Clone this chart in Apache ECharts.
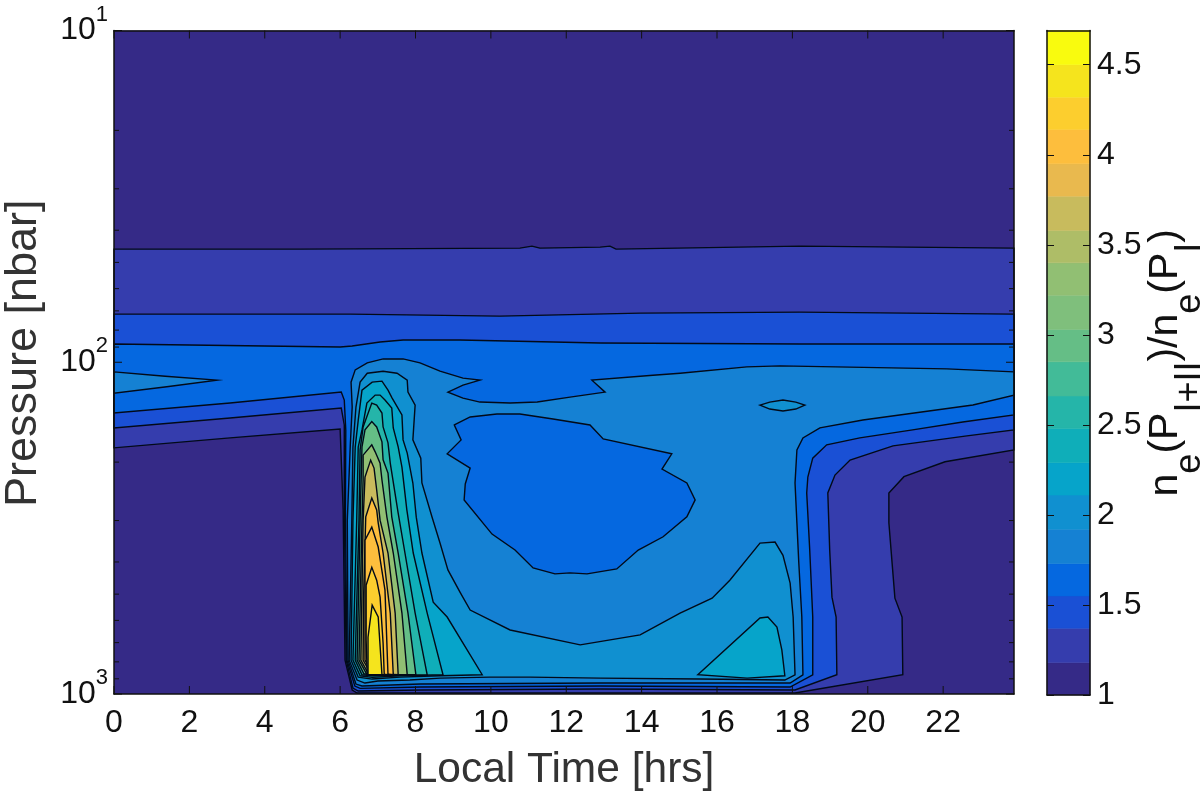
<!DOCTYPE html>
<html>
<head>
<meta charset="utf-8">
<title>Electron density ratio</title>
<script src="https://cdn.jsdelivr.net/npm/echarts@6/dist/echarts.min.js"></script>
<style>
    html, body { margin: 0; padding: 0; background: #fff; }
    #main { width: 1200px; height: 794px; }
</style>
</head>
<body>
<div id="main"></div>
<script>
// every contour is a list of [local time in hours, log10(pressure in nbar)]
var ring118 = [[0,1.659],[4.94,1.659],[10.77,1.656],[11.09,1.650],[11.30,1.656],[12.90,1.653],[13.16,1.650],[13.32,1.659],[18.20,1.650],[23.88,1.656],[23.88,2.264],[22.05,2.300],[20.96,2.345],[20.56,2.394],[20.56,2.484],[20.66,2.626],[20.72,2.711],[20.91,2.768],[20.93,2.942],[18.07,2.997],[6.45,2.997],[6.32,2.988],[6.13,2.898],[6.08,2.445],[6.00,2.201],[3.08,2.228],[0,2.258]];
var ring137 = [[0,1.855],[6.27,1.855],[10.24,1.861],[13.96,1.852],[18.20,1.849],[23.88,1.855],[23.88,2.204],[22.63,2.222],[20.67,2.252],[19.53,2.295],[19.13,2.340],[18.94,2.394],[18.99,2.566],[19.05,2.708],[19.16,2.768],[19.18,2.942],[18.07,2.988],[12.90,2.985],[8.12,2.988],[6.48,2.991],[6.34,2.982],[6.16,2.898],[6.11,2.445],[6.11,2.189],[6.03,2.138],[3.08,2.168],[0,2.198]];
var ring155 = [[0,1.945],[6.00,1.954],[6.32,1.951],[7.06,1.939],[7.67,1.933],[9.18,1.933],[12.90,1.942],[18.20,1.945],[23.88,1.945],[23.88,2.159],[22.52,2.180],[21.19,2.204],[19.79,2.228],[18.91,2.249],[18.54,2.289],[18.41,2.346],[18.38,2.394],[18.46,2.566],[18.54,2.768],[18.54,2.942],[17.94,2.979],[12.90,2.976],[8.12,2.979],[6.53,2.983],[6.39,2.976],[6.18,2.898],[6.14,2.445],[6.15,2.204],[6.11,2.114],[6.03,2.090],[3.08,2.123],[0,2.153]];
var ring173 = [[23.88,2.029],[22.10,2.020],[17.67,2.011],[16.79,2.014],[15.02,2.033],[14.30,2.039],[12.68,2.054],[13.03,2.090],[12.10,2.105],[11.23,2.120],[10.51,2.123],[9.71,2.120],[9.26,2.108],[8.86,2.090],[9.26,2.069],[9.71,2.054],[9.26,2.048],[8.65,2.027],[8.12,2.002],[7.67,1.990],[7.14,1.990],[6.72,2.002],[6.40,2.023],[6.29,2.060],[6.32,2.135],[6.27,2.249],[6.19,2.476],[6.21,2.898],[6.42,2.970],[6.58,2.976],[8.12,2.970],[12.90,2.967],[17.94,2.967],[18.28,2.942],[18.25,2.768],[18.17,2.605],[18.12,2.485],[18.07,2.364],[18.12,2.264],[18.28,2.228],[18.73,2.198],[19.87,2.174],[22.79,2.129],[23.88,2.099]];
var ring173Tip = [[0,2.029],[1.36,2.042],[2.73,2.054],[1.40,2.074],[0,2.093]];
// the low patch in the middle of the day, back down to the 1.55-1.73 band
var ring173Hole = [[9.03,2.189],[9.45,2.165],[10.16,2.156],[10.77,2.156],[11.65,2.171],[12.63,2.189],[12.98,2.231],[14.80,2.276],[14.54,2.322],[15.20,2.364],[15.42,2.415],[15.20,2.466],[14.57,2.526],[13.91,2.566],[13.34,2.623],[12.55,2.638],[12.10,2.635],[11.70,2.638],[11.12,2.620],[10.64,2.566],[10.03,2.518],[9.29,2.415],[9.32,2.367],[9.45,2.319],[8.84,2.276],[9.21,2.234]];
var ring192 = [[6.66,2.967],[6.45,2.958],[6.24,2.898],[6.31,2.476],[6.34,2.256],[6.42,2.135],[6.53,2.060],[6.72,2.033],[7.14,2.027],[7.51,2.033],[7.78,2.054],[7.80,2.090],[7.99,2.129],[7.93,2.234],[8.14,2.289],[8.17,2.364],[8.44,2.467],[8.65,2.545],[8.86,2.626],[9.18,2.693],[9.45,2.747],[10.51,2.807],[12.37,2.852],[13.96,2.822],[15.02,2.756],[15.87,2.711],[16.34,2.657],[17.14,2.545],[17.54,2.542],[17.75,2.582],[17.94,2.666],[18.02,2.768],[18.07,2.942],[17.80,2.958],[15.55,2.955],[12.90,2.952],[11.04,2.949],[9.98,2.949],[8.65,2.952],[7.85,2.958],[7.00,2.961]];
var ring192Lens = [[17.14,2.129],[17.40,2.120],[17.75,2.114],[18.09,2.120],[18.33,2.129],[18.09,2.141],[17.75,2.147],[17.40,2.141]];
var ring211 = [[9.77,2.942],[8.65,2.945],[7.59,2.949],[6.85,2.955],[6.48,2.949],[6.29,2.898],[6.34,2.476],[6.40,2.256],[6.48,2.175],[6.58,2.084],[6.85,2.060],[7.11,2.057],[7.27,2.084],[7.38,2.108],[7.64,2.159],[7.67,2.234],[7.78,2.274],[7.93,2.364],[8.02,2.467],[8.17,2.575],[8.47,2.723],[8.84,2.768]];
var ring211Dusk = [[15.49,2.942],[17.14,2.771],[17.35,2.768],[17.59,2.798],[17.72,2.867],[17.80,2.945],[16.80,2.952]];
var ring229 = [[8.73,2.942],[7.59,2.945],[6.85,2.950],[6.53,2.945],[6.34,2.898],[6.44,2.476],[6.48,2.256],[6.58,2.204],[6.71,2.123],[6.93,2.099],[7.06,2.099],[7.19,2.114],[7.37,2.138],[7.41,2.198],[7.54,2.255],[7.64,2.316],[7.77,2.445],[7.94,2.575],[8.31,2.756]];
var ring248 = [[8.31,2.942],[7.59,2.944],[6.85,2.945],[6.58,2.942],[6.40,2.898],[6.50,2.476],[6.53,2.264],[6.61,2.195],[6.84,2.123],[6.97,2.129],[7.11,2.153],[7.14,2.195],[7.27,2.243],[7.33,2.304],[7.54,2.455],[7.72,2.575],[7.99,2.756]];
var ring285 = [[8.01,2.942],[7.59,2.942],[6.85,2.942],[6.63,2.939],[6.45,2.898],[6.53,2.476],[6.58,2.255],[6.66,2.204],[6.84,2.179],[6.97,2.195],[7.11,2.240],[7.14,2.294],[7.27,2.334],[7.37,2.466],[7.54,2.575],[7.80,2.756]];
var ring322 = [[7.78,2.942],[6.85,2.941],[6.69,2.937],[6.50,2.898],[6.58,2.476],[6.61,2.355],[6.61,2.280],[6.84,2.249],[6.93,2.270],[7.06,2.304],[7.11,2.355],[7.24,2.466],[7.41,2.575],[7.64,2.756]];
var ring358 = [[7.54,2.942],[6.74,2.937],[6.55,2.898],[6.61,2.476],[6.66,2.346],[6.81,2.295],[6.90,2.319],[6.97,2.385],[7.06,2.476],[7.27,2.575],[7.46,2.756]];
var ring395 = [[7.41,2.942],[6.79,2.934],[6.61,2.898],[6.62,2.717],[6.68,2.466],[6.84,2.409],[6.97,2.445],[7.01,2.484],[7.14,2.575],[7.33,2.756]];
var ring414 = [[7.27,2.942],[6.85,2.937],[6.66,2.898],[6.66,2.536],[6.84,2.497],[7.01,2.557],[7.19,2.687]];
var ring432 = [[7.17,2.942],[6.72,2.942],[6.69,2.837],[6.69,2.672],[6.84,2.618],[6.97,2.657],[7.06,2.708],[7.14,2.847]];
var ring450 = [[6.85,2.732],[7.01,2.768],[7.11,2.942],[6.74,2.942],[6.74,2.829]];

var rings = [ring118, ring137, ring155, ring173, ring173Tip, ring173Hole, ring192, ring192Lens, ring211, ring211Dusk, ring229, ring248, ring285, ring322, ring358, ring395, ring414, ring432, ring450];
// which colour band lies inside each ring
var ringBands = [1, 2, 3, 4, 4, 3, 5, 5, 6, 6, 7, 8, 10, 12, 14, 16, 16, 17, 18];

var colorbarEdges = [1, 1.18, 1.37, 1.55, 1.73, 1.92, 2.11, 2.29, 2.48, 2.66, 2.85, 3.03, 3.22, 3.40, 3.58, 3.77, 3.95, 4.14, 4.32, 4.50, 4.69];
var bandColors = ['#352A87', '#353DAD', '#1A50D5', '#0568E0', '#1581D3', '#1090D0', '#06A4CA', '#0FAEB9', '#25B5A9', '#42BB98', '#65BE86', '#7FBF7C', '#91BF73', '#AEBD67', '#C8BB5D', '#E9B94E', '#FDBE3D', '#FCCE2E', '#F5E41D', '#F9FB0E'];

var hourTicks = [0, 2, 4, 6, 8, 10, 12, 14, 16, 18, 20, 22];
var hourMax = 23.88;
var pressureMajor = [10, 100, 1000];
var pressureMinor = [20, 30, 40, 50, 60, 70, 80, 90, 200, 300, 400, 500, 600, 700, 800, 900];
var colorbarTicks = [1, 1.5, 2, 2.5, 3, 3.5, 4, 4.5];

var FONT = 'Liberation Sans';
var INK = '#111111';
var GREY = '#333333';

function renderContour(params, api) {
    var ring = rings[api.value(2)];
    var points = ring.map(function (p) {
        return api.coord([p[0], Math.pow(10, p[1])]);
    });
    return {
        type: 'polygon',
        shape: { points: points },
        style: { fill: bandColors[ringBands[api.value(2)]], stroke: '#020a18', lineWidth: 1.4 }
    };
}

function tickLine(x1, y1, x2, y2) {
    return {
        type: 'line',
        shape: { x1: x1, y1: y1, x2: x2, y2: y2 },
        style: { stroke: '#111', lineWidth: 1 }
    };
}

// matlab style ticks, pointing inwards on all four sides
function renderTicks(params, api) {
    var kind = api.value(2);
    if (kind === 0) {
        var bottom = api.coord([api.value(0), 1000]);
        var top = api.coord([api.value(0), 10]);
        return { type: 'group', children: [
            tickLine(bottom[0], bottom[1], bottom[0], bottom[1] - 8),
            tickLine(top[0], top[1], top[0], top[1] + 8)
        ] };
    }
    var len = kind === 1 ? 8 : 5;
    var left = api.coord([0, api.value(1)]);
    var right = api.coord([hourMax, api.value(1)]);
    return { type: 'group', children: [
        tickLine(left[0], left[1], left[0] + len, left[1]),
        tickLine(right[0], right[1], right[0] - len, right[1])
    ] };
}

function renderBand(params, api) {
    var a = api.coord([0, api.value(0)]);
    var b = api.coord([1, api.value(1)]);
    return {
        type: 'rect',
        shape: { x: a[0], y: b[1], width: b[0] - a[0], height: a[1] - b[1] },
        style: { fill: bandColors[params.dataIndex], stroke: bandColors[params.dataIndex], lineWidth: 0.5 }
    };
}

var tickData = [];
hourTicks.forEach(function (h) { tickData.push([h, 10, 0]); });
pressureMajor.forEach(function (p) { tickData.push([0, p, 1]); });
pressureMinor.forEach(function (p) { tickData.push([0, p, 2]); });

var frame = { show: true, onZero: false, lineStyle: { color: '#111', width: 1.5 } };

var chart = echarts.init(document.getElementById('main'), null, { renderer: 'canvas' });
var option = {
    backgroundColor: '#fff',
    animation: false,
    textStyle: { fontFamily: FONT },
    grid: [
        { left: 114, top: 30.5, width: 900, height: 663.5, outerBoundsMode: 'none' },
        { left: 1047, top: 30.5, width: 43, height: 664.5, outerBoundsMode: 'none' }
    ],
    xAxis: [
        {
            gridIndex: 0, type: 'value', min: 0, max: hourMax, position: 'bottom', z: 10,
            axisLine: frame, axisTick: { show: false }, splitLine: { show: false },
            axisLabel: { customValues: hourTicks, color: INK, fontSize: 32, fontFamily: FONT, margin: 13 },
            name: 'Local Time [hrs]', nameLocation: 'middle', nameGap: 55,
            nameTextStyle: { color: GREY, fontSize: 42.5, fontFamily: FONT }
        },
        {
            gridIndex: 0, type: 'value', min: 0, max: hourMax, position: 'top', z: 10,
            axisLine: frame, axisTick: { show: false }, axisLabel: { show: false }, splitLine: { show: false }
        },
        {
            gridIndex: 1, type: 'value', min: 0, max: 1, position: 'bottom', z: 10,
            axisLine: frame, axisTick: { show: false }, axisLabel: { show: false }, splitLine: { show: false }
        },
        {
            gridIndex: 1, type: 'value', min: 0, max: 1, position: 'top', z: 10,
            axisLine: frame, axisTick: { show: false }, axisLabel: { show: false }, splitLine: { show: false }
        }
    ],
    yAxis: [
        {
            gridIndex: 0, type: 'log', logBase: 10, min: 10, max: 1000, inverse: true, position: 'left', z: 10,
            axisLine: frame, axisTick: { show: false }, splitLine: { show: false }, minorTick: { show: false },
            axisLabel: {
                color: INK, fontSize: 32, fontFamily: FONT, margin: 6,
                formatter: function (v) {
                    return '10{sup|' + Math.round(Math.log10(v)) + '}';
                },
                rich: { sup: { fontSize: 22, fontFamily: FONT, color: INK, verticalAlign: 'top', padding: [0, 0, 32, 0] } }
            },
            name: 'Pressure [nbar]', nameLocation: 'middle', nameGap: 68, nameRotate: 90,
            nameTextStyle: { color: GREY, fontSize: 45, fontFamily: FONT, padding: [0, 0, 0, 18] }
        },
        {
            gridIndex: 0, type: 'log', logBase: 10, min: 10, max: 1000, inverse: true, position: 'right', z: 10,
            axisLine: frame, axisTick: { show: false }, axisLabel: { show: false }, splitLine: { show: false }
        },
        {
            gridIndex: 1, type: 'value', min: 1, max: 4.69, position: 'left', z: 10,
            axisLine: frame, axisLabel: { show: false }, splitLine: { show: false },
            axisTick: { show: true, inside: true, length: 7, customValues: colorbarTicks, lineStyle: { color: '#111' } }
        },
        {
            gridIndex: 1, type: 'value', min: 1, max: 4.69, position: 'right', z: 10,
            axisLine: frame, splitLine: { show: false },
            axisTick: { show: true, inside: true, length: 7, customValues: colorbarTicks, lineStyle: { color: '#111' } },
            axisLabel: { customValues: colorbarTicks, color: INK, fontSize: 32, fontFamily: FONT, margin: 7 },
            name: 'n{sub|e}(P{sub|I+II})/n{sub|e}(P{sub|I})', nameLocation: 'middle', nameGap: 32, nameRotate: 90,
            nameTextStyle: {
                color: INK, fontSize: 41, fontFamily: FONT,
                rich: { sub: { fontSize: 36, fontFamily: FONT, color: INK, verticalAlign: 'bottom', padding: [48, 0, 0, 0] } }
            }
        }
    ],
    series: [
        {
            // lowest band fills the whole box, the rings are painted over it
            type: 'custom', xAxisIndex: 0, yAxisIndex: 0, z: 2, silent: true,
            encode: { x: 0, y: 1 },
            renderItem: function (params, api) {
                var a = api.coord([0, 10]);
                var b = api.coord([hourMax, 1000]);
                return {
                    type: 'rect',
                    shape: { x: a[0], y: a[1], width: b[0] - a[0], height: b[1] - a[1] },
                    style: { fill: bandColors[0] }
                };
            },
            data: [[0, 10]]
        },
        {
            type: 'custom', xAxisIndex: 0, yAxisIndex: 0, z: 3, silent: true,
            encode: { x: 0, y: 1 },
            renderItem: renderContour,
            data: rings.map(function (r, i) { return [r[0][0], Math.pow(10, r[0][1]), i]; })
        },
        {
            type: 'custom', xAxisIndex: 0, yAxisIndex: 0, z: 4, silent: true,
            encode: { x: 0, y: 1 },
            renderItem: renderTicks,
            data: tickData
        },
        {
            type: 'custom', xAxisIndex: 2, yAxisIndex: 2, z: 3, silent: true,
            encode: { y: [0, 1] },
            renderItem: renderBand,
            data: bandColors.map(function (c, i) { return [colorbarEdges[i], colorbarEdges[i + 1]]; })
        }
    ]
};
chart.setOption(option);
window.addEventListener('resize', function () {
    chart.resize();
});
</script>
</body>
</html>
